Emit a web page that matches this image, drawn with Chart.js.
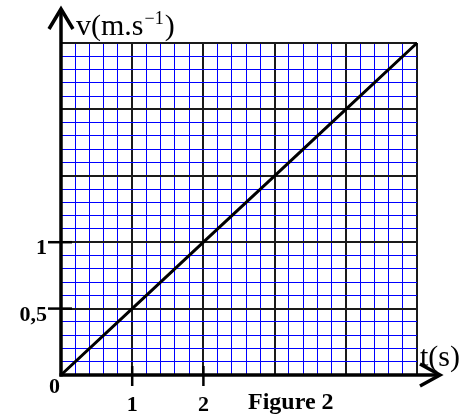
<!DOCTYPE html>
<html>
<head>
<meta charset="utf-8">
<script src="https://cdn.jsdelivr.net/npm/chart.js@4"></script>
<style>
    html, body { margin: 0; padding: 0; background: #fff; }
    #wrap { width: 475px; height: 417px; }
</style>
</head>
<body>
<div id="wrap"><canvas id="velocityChart"></canvas></div>
<script>
// values
const times = [0, 1, 2, 3, 4, 5];
const speeds = [0, 0.5, 1, 1.5, 2, 2.5];
const xTickValues = [1, 2];
const xTickLabels = ['1', '2'];
const yTickValues = [0.5, 1];
const yTickLabels = ['0,5', '1'];

const SERIF = '"Liberation Serif", "Times New Roman", serif';
const BLUE = '#0000ff';
const DARK = '#1a1a1a';

function isMultiple(v, step) {
    const r = v / step;
    return Math.abs(r - Math.round(r)) < 1e-6;
}

// axes with arrows, tick marks, labels
const axisDecor = {
    id: 'axisDecor',
    afterDatasetsDraw(chart) {
        const ctx = chart.ctx;
        const x = chart.scales.x;
        const y = chart.scales.y;
        const x0 = x.getPixelForValue(0);
        const y0 = y.getPixelForValue(0);

        ctx.save();
        ctx.strokeStyle = '#000';
        ctx.lineWidth = 3.5;
        ctx.lineCap = 'butt';

        // vertical axis + arrow
        ctx.beginPath();
        ctx.moveTo(x0, y0 + 1.5);
        ctx.lineTo(x0, 9);
        ctx.stroke();
        ctx.beginPath();
        ctx.moveTo(x0 - 12, 29);
        ctx.lineTo(x0, 9);
        ctx.lineTo(x0 + 12, 29);
        ctx.stroke();

        // horizontal axis + arrow
        ctx.beginPath();
        ctx.moveTo(x0 - 1.5, y0);
        ctx.lineTo(440, y0);
        ctx.stroke();
        ctx.beginPath();
        ctx.moveTo(420, y0 - 11);
        ctx.lineTo(440, y0);
        ctx.lineTo(420, y0 + 11);
        ctx.stroke();

        // tick marks
        ctx.lineWidth = 2.5;
        xTickValues.forEach(v => {
            const px = x.getPixelForValue(v);
            ctx.beginPath();
            ctx.moveTo(px, y0 - 9);
            ctx.lineTo(px, y0 + 11);
            ctx.stroke();
        });
        yTickValues.forEach(v => {
            const py = y.getPixelForValue(v);
            ctx.beginPath();
            ctx.moveTo(x0 - 13, py);
            ctx.lineTo(x0 + 11, py);
            ctx.stroke();
        });

        // tick labels
        ctx.fillStyle = '#000';
        ctx.font = 'bold 22px ' + SERIF;
        ctx.textBaseline = 'alphabetic';
        ctx.textAlign = 'center';
        xTickValues.forEach((v, i) => {
            ctx.fillText(xTickLabels[i], x.getPixelForValue(v), 411);
        });
        ctx.textAlign = 'right';
        yTickValues.forEach((v, i) => {
            ctx.fillText(yTickLabels[i], x0 - 14, y.getPixelForValue(v) + 12);
        });
        ctx.fillText('0', x0 - 1, y0 + 18);

        // axis titles
        ctx.textAlign = 'left';
        ctx.font = '30px ' + SERIF;
        ctx.fillText('v(m.s', 76, 35);
        const w = ctx.measureText('v(m.s').width;
        ctx.font = '18px ' + SERIF;
        ctx.fillText('\u22121', 76 + w + 1, 24);
        const w2 = ctx.measureText('\u22121').width;
        ctx.font = '30px ' + SERIF;
        ctx.fillText(')', 76 + w + w2 + 2, 35);

        ctx.fillText('t(s)', 420, 366);

        ctx.font = 'bold 24px ' + SERIF;
        ctx.fillText('Figure 2', 248, 409);
        ctx.restore();
    }
};

new Chart(document.getElementById('velocityChart'), {
    type: 'line',
    data: {
        datasets: [{
            data: times.map((t, i) => ({x: t, y: speeds[i]})),
            borderColor: '#000',
            borderWidth: 3,
            pointRadius: 0,
            tension: 0,
            clip: false
        }]
    },
    options: {
        responsive: true,
        maintainAspectRatio: false,
        animation: false,
        layout: {
            padding: {left: 61, right: 58, top: 43, bottom: 42}
        },
        plugins: {
            legend: {display: false},
            tooltip: {enabled: false}
        },
        scales: {
            x: {
                type: 'linear',
                min: 0,
                max: 5,
                ticks: {display: false, stepSize: 0.2},
                border: {display: false},
                grid: {
                    drawTicks: false,
                    color: c => isMultiple(c.tick.value, 1) ? DARK : BLUE,
                    lineWidth: c => isMultiple(c.tick.value, 1) ? 2 : 1
                }
            },
            y: {
                type: 'linear',
                min: 0,
                max: 2.5,
                ticks: {display: false, stepSize: 0.1},
                border: {display: false},
                grid: {
                    drawTicks: false,
                    color: c => isMultiple(c.tick.value, 0.5) ? DARK : BLUE,
                    lineWidth: c => isMultiple(c.tick.value, 0.5) ? 2 : 1
                }
            }
        }
    },
    plugins: [axisDecor]
});
</script>
</body>
</html>
